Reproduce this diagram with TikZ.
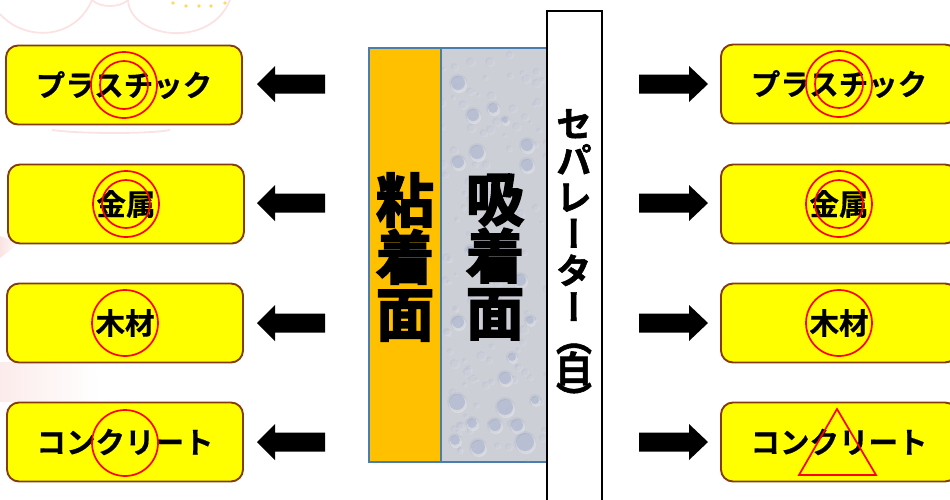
\documentclass[tikz,border=0pt]{standalone}
\usepackage{fontspec}
\setmainfont{Noto Sans CJK JP}
\newfontfamily\jpbold[FakeBold=0.4]{Noto Sans CJK JP Bold}
\newfontfamily\jpheavy[FakeBold=3.2]{Noto Sans CJK JP Bold}
\newfontfamily\jpvert[RawFeature={+vert},FakeBold=1.6]{Noto Sans CJK JP Bold}
\newcommand{\lifted}[1]{\raisebox{1.8pt}{#1}}
\definecolor{boxedge}{HTML}{843C0C}
\definecolor{boxfill}{HTML}{FFFF00}
\definecolor{markred}{HTML}{FF0000}
\definecolor{panelblue}{HTML}{4A7EAE}
\definecolor{glue}{HTML}{FFC000}
\definecolor{foam}{HTML}{CDCFD6}
\definecolor{bubble}{HTML}{8E9AC0}
\definecolor{wmark}{HTML}{FBE3E3}
\tikzset{
  matbox/.style={draw=boxedge,fill=boxfill,line width=1.9,rounded corners=12,minimum width=236,minimum height=79,inner sep=0,font=\fontsize{29.5}{31}\selectfont\jpbold},
  panel/.style={draw=panelblue,line width=2,minimum height=414,inner sep=0,anchor=north west},
  ring/.style={draw=markred,line width=1.7,circle,minimum size=66,inner sep=0},
  ringin/.style={draw=markred,line width=1.7,circle,minimum size=48,inner sep=0},
  bigword/.style={align=center,font=\fontsize{58}{57}\selectfont\jpheavy,inner sep=0},
  blockarrow/.style={fill=black,draw=none},
  bub/.style={fill=bubble,draw=none,opacity=.38}
}
\begin{document}
\begin{tikzpicture}[x=1pt,y=-1pt]
\useasboundingbox (0,0) rectangle (950,499);
\clip (0,0) rectangle (950,499);
% watermark
\draw[wmark,line width=1.8] (0,14) .. controls (25,42) and (75,40) .. (92,0);
\draw[wmark,line width=1.8] (128,0) .. controls (130,38) and (210,50) .. (230,0);
\draw[wmark,line width=1.8] (92,0) .. controls (100,8) and (120,8) .. (128,0);
\draw[wmark,line width=1.8] (52,130) .. controls (80,134) and (150,134) .. (170,130);
\shade[left color=wmark,right color=white] (0,236) -- (20,243) -- (0,258) -- cycle;
\shade[left color=wmark!70,right color=white] (0,362) -- (95,362) -- (100,402) -- (0,402) -- cycle;
\foreach \dx/\dy in {173/3,186/6,199/6,211/6,225/3}
  \fill[glue!60!white] (\dx,\dy) circle (1.8);
% panels
\node[panel,fill=foam,minimum width=106] (foam) at (439.8,47) {};
\pgfmathsetseed{7}
\begin{scope}
\clip (441,48) rectangle (546,461);
\foreach \n in {1,...,130} {
  \pgfmathsetmacro\px{441+106*rnd}
  \pgfmathsetmacro\py{48+414*rnd}
  \pgfmathsetmacro\pr{1.5+3*rnd}
  \fill[bubble,opacity=.13] (\px,\py) circle (\pr);
  \fill[white,opacity=.12] ({\px+1.5},{\py+1.5}) circle (\pr);
}
\foreach \bx/\by/\br in {458/83/7,473/115/6,493/108/5,477/152/7,458/162/6,527/145/6,527/165/6,457/402/8,505/407/8,495/425/6,517/425/6,525/442/9,478/447/7,472/423/5,505/378/6,512/357/4,458/322/6,520/280/6,470/250/4,500/205/4,530/320/4,455/440/5,505/120/3,535/400/4}
  {\fill[bub,opacity=.15] (\bx,\by) circle ({\br+2});\fill[white,opacity=.3] ({\bx+1},{\by+2}) circle ({\br+1});\fill[bub] (\bx,\by) circle (\br);}
\end{scope}
\node[panel,fill=glue,minimum width=72] (glue) at (367.8,47) {};
\node[bigword] (nen) at (405,257) {粘\\着\\面};
\node[bigword] (kyu) at (495,257) {吸\\着\\面};
\node[draw=black,fill=white,line width=2,minimum width=55,minimum height=500,inner sep=0,anchor=north west] (sep) at (545.8,9.5) {};
\node[align=center,inner sep=0,font=\fontsize{36}{36.7}\selectfont\jpvert] (septext) at (574,261) {セ\\パ\\レ\\ー\\タ\\ー\\[-6pt]（\\[-6pt]白\\[-6pt]）};
% left boxes
\node[matbox] (l1) at (124,85) {\lifted{プラスチック}};
\node[matbox] (l2) at (126,204) {\lifted{金属}};
\node[matbox] (l3) at (125,323) {\lifted{木材}};
\node[matbox] (l4) at (125,442) {\lifted{コンクリート}};
% right boxes
\node[matbox] (r1) at (839,84) {\lifted{プラスチック}};
\node[matbox] (r2) at (839,204) {\lifted{金属}};
\node[matbox] (r3) at (839,323) {\lifted{木材}};
\node[matbox] (r4) at (839,442) {\lifted{コンクリート}};
% marks
\node[ring] (c1) at (124,85) {};
\node[ringin] (c1i) at (124,85) {};
\node[ring] (c2) at (126,204) {};
\node[ringin] (c2i) at (126,204) {};
\node[ring] (c3) at (125,323) {};
\node[ring] (c4) at (125,443) {};
\node[ring] (d1) at (839,84) {};
\node[ringin] (d1i) at (839,84) {};
\node[ring] (d2) at (839,204) {};
\node[ringin] (d2i) at (839,204) {};
\node[ring] (d3) at (839,323) {};
\draw[markred,line width=1.7,line join=miter] (837,409) -- (876,475) -- (799,475) -- cycle;
% arrows
\foreach \ay in {84,203,323,442} {
  \fill[blockarrow] (257,\ay) -- (275,{\ay-18}) -- (275,{\ay-9.5}) -- (325,{\ay-9.5}) -- (325,{\ay+9.5}) -- (275,{\ay+9.5}) -- (275,{\ay+18}) -- cycle;
  \fill[blockarrow] (708,\ay) -- (689,{\ay-18}) -- (689,{\ay-9.5}) -- (639,{\ay-9.5}) -- (639,{\ay+9.5}) -- (689,{\ay+9.5}) -- (689,{\ay+18}) -- cycle;
}
\end{tikzpicture}
\end{document}
